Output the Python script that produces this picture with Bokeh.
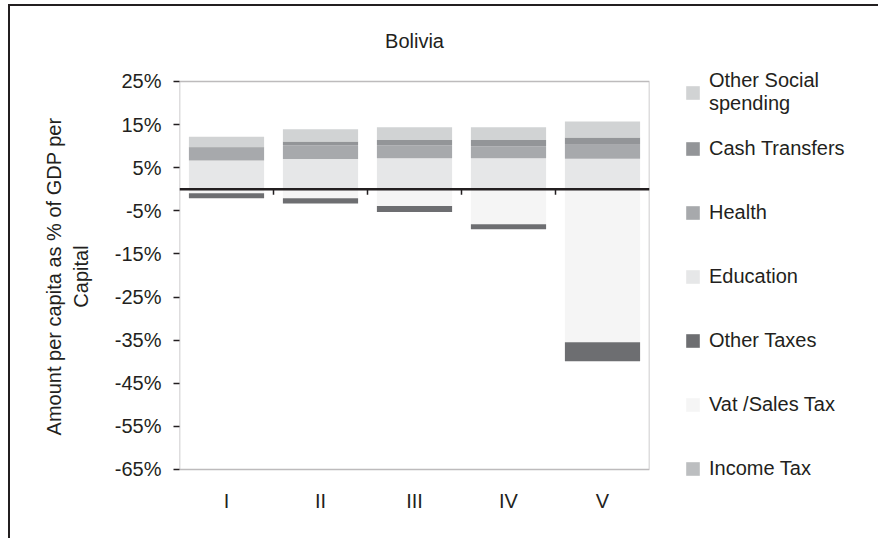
from bokeh.plotting import figure
from bokeh.models import FactorRange, Range1d, FixedTicker, Legend, LegendItem, Span, BoxAnnotation
from bokeh.layouts import row
from bokeh.embed import file_html
from bokeh.resources import INLINE

# ---- data ----
quintiles = ["I", "II", "III", "IV", "V"]
education = [6.7, 7.0, 7.2, 7.2, 7.1]
health = [3.0, 3.2, 3.0, 2.8, 3.2]
cash_transfers = [0.1, 0.9, 1.2, 1.4, 1.7]
other_social = [2.4, 2.8, 3.0, 3.0, 3.7]
vat_sales_tax = [-0.9, -2.1, -3.9, -8.1, -35.5]
other_taxes = [-1.2, -1.2, -1.4, -1.2, -4.4]
income_tax = [0.0, 0.0, 0.0, 0.0, 0.0]
y_ticks = [25, 15, 5, -5, -15, -25, -35, -45, -55, -65]
y_tick_labels = [f"{t}%" for t in y_ticks]

title_text = "Bolivia"
y_label = "Amount per capita as % of GDP per\nCapital"
series_names = ["Other Social\nspending", "Cash Transfers", "Health", "Education",
                "Other Taxes", "Vat /Sales Tax", "Income Tax"]

FONT = "Liberation Sans"
TXT = "#231f20"
FS = "20px"

colors = {
    "Other Social\nspending": "#d1d3d4",
    "Cash Transfers": "#939598",
    "Health": "#a7a9ac",
    "Education": "#e6e7e8",
    "Other Taxes": "#6d6e71",
    "Vat /Sales Tax": "#f5f5f5",
    "Income Tax": "#bcbec0",
}

data = dict(q=quintiles, edu=education, hea=health, cash=cash_transfers, oth=other_social,
            vat=vat_sales_tax, otax=other_taxes, inc=income_tax)

H = 532
y_lo, y_hi = min(y_ticks), max(y_ticks)
# frame is a little taller than the boxed axis range so the legend beside it has room
p = figure(width=649, height=H, x_range=FactorRange(*quintiles),
           y_range=Range1d(y_lo - 3.02, y_hi + 2.55),
           output_backend="svg", toolbar_location=None,
           min_border_left=169, min_border_top=64, min_border_right=10, min_border_bottom=56)

pos = p.vbar_stack(["edu", "hea", "cash", "oth"], x="q", width=0.8, source=data,
                   color=[colors["Education"], colors["Health"], colors["Cash Transfers"],
                          colors["Other Social\nspending"]], line_color=None)
neg = p.vbar_stack(["vat", "otax", "inc"], x="q", width=0.8, source=data,
                   color=[colors["Vat /Sales Tax"], colors["Other Taxes"], colors["Income Tax"]],
                   line_color=None)

# plot-area box from -65% to 25%
p.add_layout(BoxAnnotation(bottom=y_lo, top=y_hi, fill_alpha=0, line_color=TXT, line_width=1.5,
                           level="overlay"))
# zero line and category-boundary ticks
p.add_layout(Span(location=0, dimension="width", line_color=TXT, line_width=2.5))
bx = [(c, -0.5) for c in quintiles[1:]]
p.segment(x0=bx, x1=bx, y0=[0] * len(bx), y1=[-1.3] * len(bx), line_color=TXT, line_width=1.5)

# title
p.title.text = title_text
p.title.align = "center"
p.title.text_font = FONT
p.title.text_font_size = FS
p.title.text_font_style = "normal"
p.title.text_color = TXT
p.title.standoff = 38

# axes
p.xgrid.visible = False
p.ygrid.visible = False
p.outline_line_color = None

ya = p.yaxis[0]
ya.ticker = FixedTicker(ticks=y_ticks)
ya.major_label_overrides = {t: l for t, l in zip(y_ticks, y_tick_labels)}
ya.minor_tick_line_color = None
ya.major_tick_in = 0
ya.major_tick_out = 6
ya.major_label_standoff = 12
ya.major_label_text_font = FONT
ya.major_label_text_font_size = FS
ya.major_label_text_color = TXT
ya.axis_line_color = None
ya.major_tick_line_color = TXT
ya.major_tick_line_width = 1.5
ya.axis_label = y_label
ya.axis_label_text_font = FONT
ya.axis_label_text_font_size = FS
ya.axis_label_text_font_style = "normal"
ya.axis_label_text_color = TXT
ya.axis_label_standoff = 20

xa = p.xaxis[0]
xa.major_tick_line_color = None
xa.axis_line_color = None
xa.major_label_standoff = 1
xa.major_label_text_font = FONT
xa.major_label_text_font_size = FS
xa.major_label_text_color = TXT

# ---- legend panel (right of the plot area) ----
q = figure(width=219, height=H, x_range=Range1d(0, 1), y_range=Range1d(0, 1),
           output_backend="svg", toolbar_location=None,
           x_axis_location=None, y_axis_location=None,
           min_border_left=0, min_border_right=0, min_border_top=0, min_border_bottom=0)
q.xgrid.visible = False
q.ygrid.visible = False
q.outline_line_color = None

swatches = {}
for name in series_names:
    # zero-size rectangle: only its legend swatch is seen
    swatches[name] = q.vbar(x=[0.5], bottom=[0.5], top=[0.5], width=0,
                            fill_color=colors[name], line_color=None)


def style_legend(lg):
    lg.label_text_font = FONT
    lg.label_text_font_size = FS
    lg.label_text_color = TXT
    lg.glyph_width = 17
    lg.glyph_height = 17
    lg.label_standoff = 8
    lg.padding = 0
    lg.margin = 0
    lg.border_line_color = None
    lg.background_fill_alpha = 0


leg_a = Legend(items=[LegendItem(label=series_names[0], renderers=[swatches[series_names[0]]])],
               location=(25, 367))
style_legend(leg_a)
leg_a.label_height = 24

leg_b = Legend(items=[LegendItem(label=n, renderers=[swatches[n]]) for n in series_names[1:]],
               location=(25, 2))
style_legend(leg_b)
leg_b.label_height = 24
leg_b.spacing = 40
q.add_layout(leg_a, "center")
q.add_layout(leg_b, "center")

layout = row(p, q)
layout.styles = {"border-left": "2px solid #231f20", "border-top": "2px solid #231f20",
                 "margin-left": "8px", "margin-top": "4px"}

open("out.html", "w").write(file_html(layout, INLINE))
